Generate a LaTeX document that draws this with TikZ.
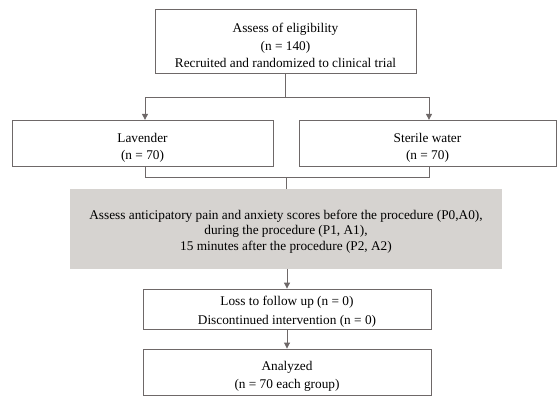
\documentclass[tikz,border=0pt]{standalone}
\usepackage{fontspec}
\setmainfont{Liberation Serif}
\usetikzlibrary{arrows.meta}
\definecolor{linegray}{RGB}{110,104,104}
\definecolor{boxfill}{RGB}{214,211,208}
\newcommand\lowr[1]{\rule{0pt}{#1}}
\begin{document}
\begin{tikzpicture}[x=1pt,y=-1pt,
  box/.style={draw=linegray, line width=0.9pt, inner sep=0pt, align=center,
              font=\fontsize{13.3}{17.5}\selectfont},
  graybox/.style={fill=boxfill, draw=none, inner sep=0pt, align=center,
              font=\fontsize{13.3}{15.5}\selectfont},
  conn/.style={draw=linegray, line width=0.9pt},
  arr/.style={conn, -{Triangle[width=6pt,length=6pt]}}]
\useasboundingbox (0,0) rectangle (557,396);

\node[box, minimum width=261pt, minimum height=64.5pt] (top) at (285.5,41.7)
  {\lowr{17pt}Assess of eligibility\\(n = 140)\\Recruited and randomized to clinical trial};
\node[box, minimum width=261pt, minimum height=46pt] (lav) at (142.5,143.3)
  {\lowr{18pt}Lavender\\(n = 70)};
\node[box, minimum width=257pt, minimum height=46pt] (ster) at (427.5,143.3)
  {\lowr{18pt}Sterile water\\(n = 70)};
\node[graybox, minimum width=432pt, minimum height=80pt] (gray) at (286,229)
  {\lowr{14pt}Assess anticipatory pain and anxiety scores before the procedure (P0,A0),\\
   during the procedure (P1, A1),\\15 minutes after the procedure (P2, A2)};
\node[box, minimum width=288pt, minimum height=40.3pt, font=\fontsize{13.3}{18.5}\selectfont] (loss) at (287,309.2)
  {\lowr{14pt}Loss to follow up (n = 0)\\Discontinued intervention (n = 0)};
\node[box, minimum width=288pt, minimum height=46pt, font=\fontsize{13.3}{18.7}\selectfont] (anal) at (287,372)
  {\lowr{18pt}Analyzed\\(n = 70 each group)};

\coordinate (jm) at (285.5,97);
\coordinate (jl) at (145,97);
\coordinate (jr) at (429,97);
\draw[conn] (top.south) -- (jm);
\draw[conn] (jl) -- (jr);
\draw[arr] (jl) -- (jl |- lav.north);
\draw[arr] (jr) -- (jr |- ster.north);

\coordinate (bl) at (145,177);
\coordinate (br) at (429,177);
\coordinate (bm) at (286,177);
\draw[conn] (bl |- lav.south) -- (bl) -- (br) -- (br |- ster.south);
\draw[conn] (bm) -- (bm |- gray.north);

\draw[arr] (gray.south -| loss.north) -- (loss.north);
\draw[arr] (loss.south) -- (anal.north);
\end{tikzpicture}
\end{document}
